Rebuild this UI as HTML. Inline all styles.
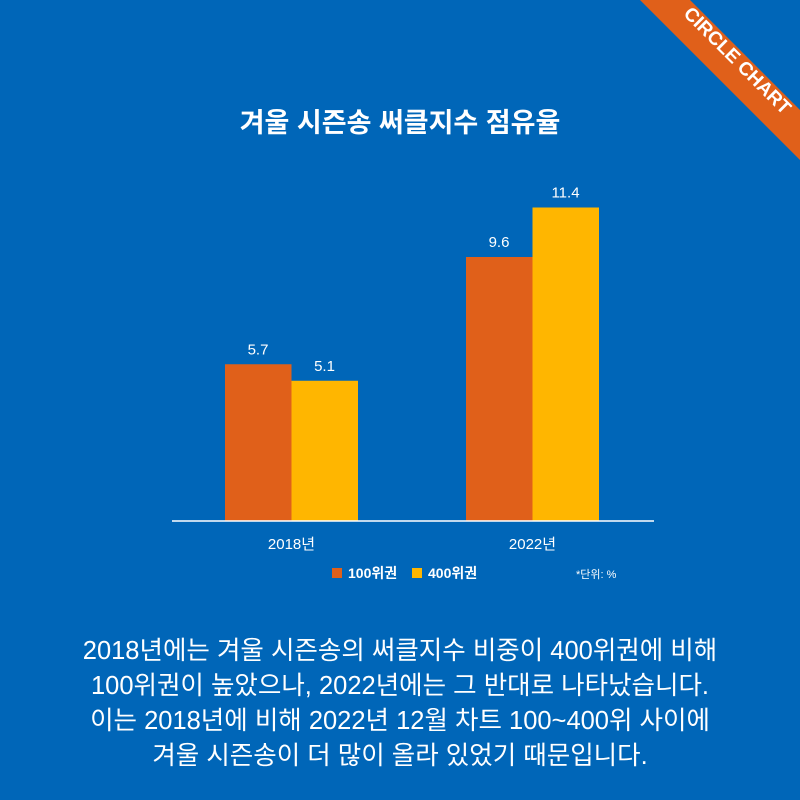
<!DOCTYPE html>
<html><head><meta charset="utf-8"><style>
body{margin:0;width:800px;height:800px;background:#0066b8;overflow:hidden;font-family:"Liberation Sans","Noto Sans CJK KR",sans-serif;color:#fff}
</style></head><body>
<svg width="800" height="800" style="position:absolute;left:0;top:0">
<rect width="800" height="800" fill="#0066b8"/>
<polygon points="640,0 690,0 800,110 800,160" fill="#e0601a"/>
<text x="733" y="65" transform="rotate(45 733 65)" text-anchor="middle" font-size="19" font-weight="bold" fill="#fff" font-family="Liberation Sans, sans-serif">CIRCLE CHART</text>
<text x="400" y="132" text-anchor="middle" font-size="27" font-weight="bold" fill="#fff" font-family="Liberation Sans, Noto Sans CJK KR, sans-serif">겨울 시즌송 써클지수 점유율</text>
<g id="bars"></g>
<line x1="172" y1="521" x2="654" y2="521" stroke="#fff" stroke-width="1.5"/>
<rect x="332" y="568" width="10" height="10" fill="#e0601a"/>
<text x="348" y="578" font-size="14" font-weight="bold" fill="#fff" font-family="Liberation Sans, Noto Sans CJK KR, sans-serif">100위권</text>
<rect x="412" y="568" width="10" height="10" fill="#ffb600"/>
<text x="428" y="578" font-size="14" font-weight="bold" fill="#fff" font-family="Liberation Sans, Noto Sans CJK KR, sans-serif">400위권</text>
<text x="576" y="578" font-size="11" fill="#fff" font-family="Liberation Sans, Noto Sans CJK KR, sans-serif">*단위: %</text>
</svg>
<div style="position:absolute;left:0;top:634px;width:800px;text-align:center;font-size:25.5px;line-height:35px;">2018년에는 겨울 시즌송의 써클지수 비중이 400위권에 비해<br>100위권이 높았으나, 2022년에는 그 반대로 나타났습니다.<br>이는 2018년에 비해 2022년 12월 차트 100~400위 사이에<br>겨울 시즌송이 더 많이 올라 있었기 때문입니다.</div>
<script>
const categories=["2018년","2022년"];
const series100=[5.7,9.6];
const series400=[5.1,11.4];
const base=521,scale=27.5;
const groupX=[225,466];
const y=v=>base-v*scale;
const g=document.getElementById('bars');
const ns="http://www.w3.org/2000/svg";
function mk(t,a){const e=document.createElementNS(ns,t);for(const k in a)e.setAttribute(k,a[k]);return e;}
categories.forEach((c,i)=>{
  [[series100,"#e0601a","100"],[series400,"#ffb600","400"]].forEach((s,j)=>{
    const v=s[0][i],x=groupX[i]+j*66.5;
    const r=mk('rect',{x:x,y:y(v),width:66.5,height:v*scale,fill:s[1]});
    
    
    g.appendChild(r);
    const t=mk('text',{x:x+33,y:y(v)-10,'text-anchor':'middle','font-size':'15',fill:'#fff','font-family':'Liberation Sans, sans-serif'});
    t.textContent=v.toFixed(1);
    
    
    g.appendChild(t);
  });
  const l=mk('text',{x:groupX[i]+66.5,y:549,'text-anchor':'middle','font-size':'15',fill:'#fff','font-family':'Liberation Sans, Noto Sans CJK KR, sans-serif'});
  l.textContent=c;
  
  
  g.appendChild(l);
});
</script>
</body></html>
